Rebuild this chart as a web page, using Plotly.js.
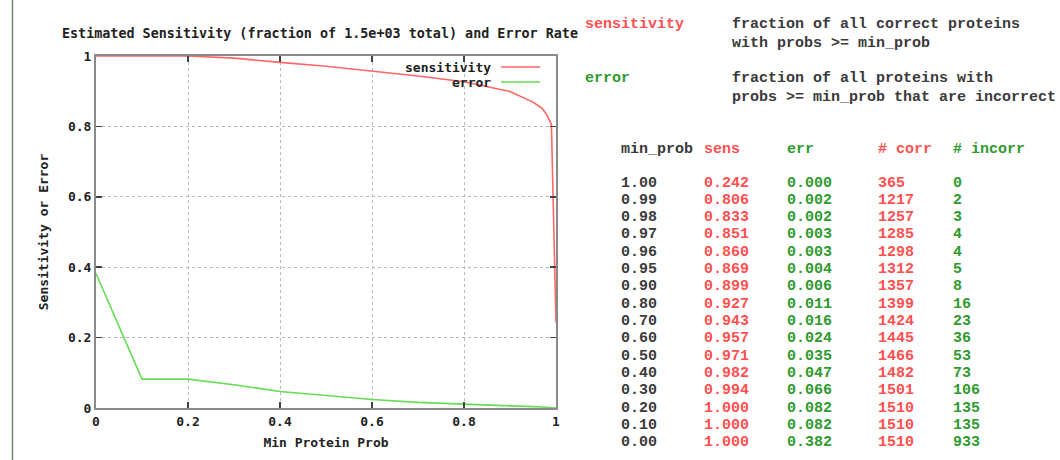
<!DOCTYPE html>
<html>
<head>
<meta charset="utf-8">
<script src="https://cdn.plot.ly/plotly-3.0.1.min.js"></script>
<style>html,body{margin:0;padding:0;background:#fff;}#chart{width:1060px;height:460px;}</style>
</head>
<body>
<div id="chart"></div>
<script>
// ---- data ----
const minProb = [1.00, 0.99, 0.98, 0.97, 0.96, 0.95, 0.90, 0.80, 0.70, 0.60, 0.50, 0.40, 0.30, 0.20, 0.10, 0.00];
const sens    = [0.242, 0.806, 0.833, 0.851, 0.860, 0.869, 0.899, 0.927, 0.943, 0.957, 0.971, 0.982, 0.994, 1.000, 1.000, 1.000];
const err     = [0.000, 0.002, 0.002, 0.003, 0.003, 0.004, 0.006, 0.011, 0.016, 0.024, 0.035, 0.047, 0.066, 0.082, 0.082, 0.382];
const nCorr   = [365, 1217, 1257, 1285, 1298, 1312, 1357, 1399, 1424, 1445, 1466, 1482, 1501, 1510, 1510, 1510];
const nIncorr = [0, 2, 3, 4, 4, 5, 8, 16, 23, 36, 53, 73, 106, 135, 135, 933];
const xTicks  = [0, 0.2, 0.4, 0.6, 0.8, 1];
const yTicks  = [0, 0.2, 0.4, 0.6, 0.8, 1];
const headers = ['min_prob', 'sens', 'err', '# corr', '# incorr'];

// ---- styling ----
const RED = '#ff5050';
const GREEN = '#2f9a2f';
const LRED = '#ff6666';
const LGREEN = '#66dd55';
const DARK = '#3a3a3a';
const plotFont = {family: 'DejaVu Sans Mono', size: 13, color: '#222', weight: 'bold'};
const titleFont = {family: 'DejaVu Sans Mono', size: 13.4, color: '#222', weight: 'bold'};
const tblFont = 'Liberation Mono';

const W = 1060, H = 460;
const L = 96, R = 556, T = 56, B = 408;
const px = x => (x - L) / (R - L);
const py = y => 1 - (y - T) / (B - T);
const DY = 2; // baseline compensation for table text

const traces = [
  {x: minProb, y: sens, type: 'scatter', mode: 'lines', name: 'sensitivity',
   line: {color: LRED, width: 1.6}, showlegend: false},
  {x: minProb, y: err, type: 'scatter', mode: 'lines', name: 'error',
   line: {color: LGREEN, width: 1.6}, showlegend: false}
];

const ann = [];
const shapes = [];
function txt(x, y, s, color, opts) {
  ann.push(Object.assign({xref: 'paper', yref: 'paper', x: px(x), y: py(y + DY), text: s,
    showarrow: false, xanchor: 'left', yanchor: 'middle',
    font: {family: tblFont, size: 15, color: color, weight: 'bold'}}, opts || {}));
}

// in-plot legend (gnuplot style: text then sample line)
txt(493, 66, 'sensitivity', '#222', {xanchor: 'right', font: plotFont});
txt(493, 81, 'error', '#222', {xanchor: 'right', font: plotFont});
shapes.push({type: 'line', xref: 'paper', yref: 'paper', x0: px(501), x1: px(540), y0: py(67), y1: py(67), line: {color: LRED, width: 1.6}});
shapes.push({type: 'line', xref: 'paper', yref: 'paper', x0: px(501), x1: px(540), y0: py(82), y1: py(82), line: {color: LGREEN, width: 1.6}});

// left edge rule
shapes.push({type: 'line', xref: 'paper', yref: 'paper', x0: px(12.5), x1: px(12.5), y0: py(0), y1: py(460), line: {color: '#6f866a', width: 1.5}});

// right side description
txt(583, 22, 'sensitivity', RED);
txt(730, 22, 'fraction of all correct proteins', DARK);
txt(730, 42, 'with probs >= min_prob', DARK);
txt(583, 77, 'error', GREEN);
txt(730, 77, 'fraction of all proteins with', DARK);
txt(730, 95, 'probs >= min_prob that are incorrect', DARK);

// table
const colX = [619, 702, 785, 876, 951];
const hdrCol = [DARK, RED, GREEN, RED, GREEN];
headers.forEach((h, i) => txt(colX[i], 147, h, hdrCol[i]));
const rowY0 = 181, rowDy = 17.33;
minProb.forEach((m, r) => {
  const y = rowY0 + r * rowDy;
  txt(colX[0], y, m.toFixed(2), DARK);
  txt(colX[1], y, sens[r].toFixed(3), RED);
  txt(colX[2], y, err[r].toFixed(3), GREEN);
  txt(colX[3], y, String(nCorr[r]), RED);
  txt(colX[4], y, String(nIncorr[r]), GREEN);
});

const axisCommon = {
  showline: true, linecolor: '#8a8a8a', linewidth: 2, mirror: 'ticks',
  ticks: 'inside', ticklen: 6, tickcolor: '#444', tickwidth: 1.5,
  showgrid: true, gridcolor: '#b8b8b8', griddash: 'dot', gridwidth: 1,
  zeroline: false, tickfont: plotFont, fixedrange: true
};

const layout = {
  width: W, height: H,
  margin: {l: L, r: W - R, t: T, b: H - B, pad: 0},
  paper_bgcolor: '#fff', plot_bgcolor: '#fff',
  showlegend: false,
  title: {text: 'Estimated Sensitivity (fraction of 1.5e+03 total) and Error Rate',
    x: 62 / W, xanchor: 'left', y: 1 - 33 / H, yanchor: 'middle', xref: 'container', yref: 'container',
    font: titleFont},
  xaxis: Object.assign({}, axisCommon, {range: [0, 1], tickvals: xTicks,
    title: {text: 'Min Protein Prob', font: plotFont, standoff: 10}}),
  yaxis: Object.assign({}, axisCommon, {range: [0, 1], tickvals: yTicks,
    title: {text: 'Sensitivity or Error', font: plotFont, standoff: 16}}),
  annotations: ann,
  shapes: shapes
};

Plotly.newPlot('chart', traces, layout, {displayModeBar: false, staticPlot: true});
</script>
</body>
</html>
